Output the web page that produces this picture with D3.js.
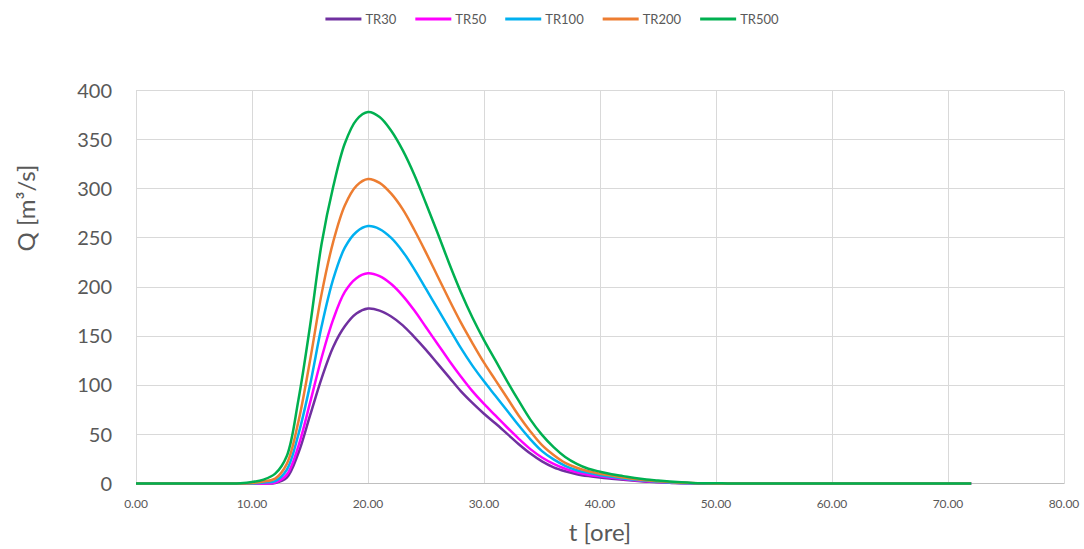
<!DOCTYPE html>
<html>
<head>
<meta charset="utf-8">
<script src="https://cdn.jsdelivr.net/npm/d3@7"></script>
<style>
  html, body { margin: 0; padding: 0; background: #fff; }
  svg { display: block; font-family: Lato, "Open Sans", sans-serif; }
</style>
</head>
<body>
<svg id="chart"></svg>
<script>
const outerWidth = 1084;
const outerHeight = 549;
const margin = { top: 90.5, right: 20, bottom: 65.5, left: 136 };
const width = 1064 - margin.left;
const height = outerHeight - margin.top - margin.bottom;

// time in hours
const hours = [
  0, 1, 2, 3, 4, 5, 6, 7, 8, 9,
  10, 11, 12, 13, 14, 15, 16, 17, 18, 19,
  20, 21, 22, 23, 24, 25, 26, 27, 28, 29,
  30, 31, 32, 33, 34, 35, 36, 37, 38, 39,
  40, 41, 42, 43, 44, 45, 46, 47, 48, 49,
  50, 51, 52, 53, 54, 55, 56, 57, 58, 59,
  60, 61, 62, 63, 64, 65, 66, 67, 68, 69,
  70, 71, 72
];

const tr30 = [
  0, 0, 0, 0, 0, 0, 0, 0, 0, 0,
  0, 0, 0.5, 6, 31, 69, 107, 139, 160, 173,
  178, 176, 170, 161, 149, 136, 122, 108, 94, 82,
  71, 61, 50.5, 40, 30.5, 22.5, 16.5, 12.5, 9.5, 7.5,
  6, 4.8, 3.7, 2.7, 1.9, 1.2, 0.7, 0.35, 0.15, 0,
  0, 0, 0, 0, 0, 0, 0, 0, 0, 0,
  0, 0, 0, 0, 0, 0, 0, 0, 0, 0,
  0, 0, 0
];

const tr50 = [
  0, 0, 0, 0, 0, 0, 0, 0, 0, 0,
  0, 0, 1, 9, 38, 82, 128, 167, 195, 209,
  214, 211, 203, 191, 176, 159, 142, 125, 109, 94,
  81, 69, 57, 45.5, 35, 26.5, 20, 15, 11.5, 9,
  7.3, 5.9, 4.5, 3.3, 2.3, 1.5, 0.9, 0.5, 0.2, 0,
  0, 0, 0, 0, 0, 0, 0, 0, 0, 0,
  0, 0, 0, 0, 0, 0, 0, 0, 0, 0,
  0, 0, 0
];

const tr100 = [
  0, 0, 0, 0, 0, 0, 0, 0, 0, 0,
  0, 1, 2.5, 14, 50, 100, 160, 208, 240, 256,
  262, 259, 250, 236, 218, 198, 178, 158, 138, 120,
  104, 89, 74, 59, 45, 33, 24.5, 18, 13.5, 10.8,
  8.5, 6.8, 5.2, 3.8, 2.7, 1.8, 1.1, 0.6, 0.3, 0.1,
  0, 0, 0, 0, 0, 0, 0, 0, 0, 0,
  0, 0, 0, 0, 0, 0, 0, 0, 0, 0,
  0, 0, 0
];

const tr200 = [
  0, 0, 0, 0, 0, 0, 0, 0, 0, 0,
  0.5, 2, 5, 20, 63, 125, 193, 246, 283, 303,
  310, 306, 295, 279, 258, 235, 211, 187, 164, 143,
  123, 105, 87, 69, 53, 39, 29, 21, 16, 12.5,
  10, 8, 6, 4.5, 3.2, 2.2, 1.4, 0.8, 0.4, 0.2,
  0, 0, 0, 0, 0, 0, 0, 0, 0, 0,
  0, 0, 0, 0, 0, 0, 0, 0, 0, 0,
  0, 0, 0
];

const tr500 = [
  0, 0, 0, 0, 0, 0, 0, 0, 0, 0.3,
  1.5, 4, 10, 28, 85, 160, 244, 302, 346, 370,
  378, 373, 359, 339, 314, 285, 255, 224, 195, 169,
  146, 125, 104, 84, 65, 49.5, 37, 27, 20, 15,
  12, 9.5, 7.5, 5.5, 4, 3, 2, 1.2, 0.6, 0.3,
  0.2, 0.1, 0, 0, 0, 0, 0, 0, 0, 0,
  0, 0, 0, 0, 0, 0, 0, 0, 0, 0,
  0, 0, 0
];

const seriesNames = ["TR30", "TR50", "TR100", "TR200", "TR500"];
const seriesValues = [tr30, tr50, tr100, tr200, tr500];
const seriesColors = ["#7030A0", "#FF00FF", "#00B0F0", "#ED7D31", "#00B050"];

const xTicks = [0, 10, 20, 30, 40, 50, 60, 70, 80];
const yTicks = [0, 50, 100, 150, 200, 250, 300, 350, 400];

const svg0 = d3.select("#chart")
    .attr("width", outerWidth)
    .attr("height", outerHeight);

const svg = svg0.append("g")
    .attr("transform", `translate(${margin.left},${margin.top})`);

const x = d3.scaleLinear().domain([0, 80]).range([0, width]);
const y = d3.scaleLinear().domain([0, 400]).range([height, 0]);

// grid
svg.append("g").selectAll("line.h")
    .data(yTicks.filter(d => d > 0))
    .enter().append("line")
    .attr("x1", 0).attr("x2", width)
    .attr("y1", d => y(d)).attr("y2", d => y(d))
    .attr("stroke", "#d9d9d9").attr("stroke-width", 1)
    .attr("shape-rendering", "crispEdges");

svg.append("g").selectAll("line.v")
    .data(xTicks)
    .enter().append("line")
    .attr("x1", d => x(d)).attr("x2", d => x(d))
    .attr("y1", 0).attr("y2", height)
    .attr("stroke", "#d9d9d9").attr("stroke-width", 1)
    .attr("shape-rendering", "crispEdges");

// bottom axis line
svg.append("line")
    .attr("x1", 0).attr("x2", width)
    .attr("y1", height).attr("y2", height)
    .attr("stroke", "#bfbfbf").attr("stroke-width", 1)
    .attr("shape-rendering", "crispEdges");

// y tick labels
svg.append("g").selectAll("text")
    .data(yTicks)
    .enter().append("text")
    .attr("x", -24)
    .attr("y", d => y(d))
    .attr("dy", "0.36em")
    .attr("text-anchor", "end")
    .style("font-size", "20px")
    .style("fill", "#595959")
    .text(d => d);

// x tick labels
svg.append("g").selectAll("text")
    .data(xTicks)
    .enter().append("text")
    .attr("x", d => x(d))
    .attr("y", height + 20)
    .attr("dy", "0.36em")
    .attr("text-anchor", "middle")
    .style("font-size", "12px")
    .style("fill", "#595959")
    .text(d => d.toFixed(2));

// lines
const line = d3.line()
    .x((d, i) => x(hours[i]))
    .y(d => y(d))
    .curve(d3.curveCatmullRom.alpha(0.5));

seriesValues.forEach((vals, k) => {
    svg.append("path")
        .datum(vals)
        .attr("fill", "none")
        .attr("stroke", seriesColors[k])
        .attr("stroke-width", 2.5)
        .attr("stroke-linejoin", "round")
        .attr("d", line);
});

// axis titles
svg0.append("text")
    .attr("x", 600)
    .attr("y", 541)
    .attr("text-anchor", "middle")
    .style("font-size", "24px")
    .style("fill", "#595959")
    .text("t [ore]");

svg0.append("text")
    .attr("transform", "translate(35, 208) rotate(-90)")
    .attr("text-anchor", "middle")
    .style("font-size", "24px")
    .style("fill", "#595959")
    .text("Q [m³/s]");

// legend
const legend = svg0.append("g");
const sampleLen = 36;
const textGap = 4;
const itemGap = 19;
let lx = 0;
seriesNames.forEach((name, k) => {
    const g = legend.append("g");
    g.append("line")
        .attr("x1", 0).attr("x2", sampleLen)
        .attr("y1", 0).attr("y2", 0)
        .attr("stroke", seriesColors[k])
        .attr("stroke-width", 3);
    const t = g.append("text")
        .attr("x", sampleLen + textGap)
        .attr("y", 0)
        .attr("dy", "0.36em")
        .style("font-size", "13px")
        .style("fill", "#595959")
        .text(name);
    const w = sampleLen + textGap + t.node().getComputedTextLength();
    g.attr("transform", `translate(${lx},0)`);
    lx += w + itemGap;
});
const legendWidth = lx - itemGap;
legend.attr("transform", `translate(${552 - legendWidth / 2},19)`);
</script>
</body>
</html>
